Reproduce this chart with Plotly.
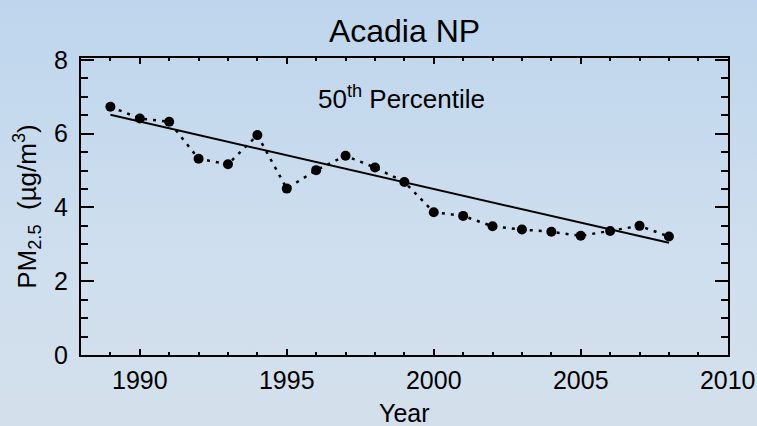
import base64
import plotly.graph_objects as go

years = [1989, 1990, 1991, 1992, 1993, 1994, 1995, 1996, 1997, 1998,
         1999, 2000, 2001, 2002, 2003, 2004, 2005, 2006, 2007, 2008]
pm25_p50 = [6.73, 6.41, 6.32, 5.32, 5.17, 5.96, 4.51, 5.01, 5.40, 5.08,
            4.69, 3.87, 3.77, 3.49, 3.40, 3.34, 3.23, 3.36, 3.50, 3.21]
trend_years = [1989, 2008]
trend_pm25 = [6.51, 3.04]

x_ticks = [1990, 1995, 2000, 2005, 2010]
y_ticks = [0, 2, 4, 6, 8]

FONT = "Liberation Sans, Arial, Helvetica, sans-serif"

svg = """<svg xmlns='http://www.w3.org/2000/svg' width='757' height='426' preserveAspectRatio='none'>
<defs><linearGradient id='g' x1='0' y1='0' x2='0' y2='1'>
<stop offset='0' stop-color='#bdd5ed'/>
<stop offset='0.55' stop-color='#d0dfee'/>
<stop offset='1' stop-color='#d5e0ea'/>
</linearGradient></defs>
<rect width='757' height='426' fill='url(#g)'/></svg>"""
bg_src = "data:image/svg+xml;base64," + base64.b64encode(svg.encode()).decode()

PW, PH = 647.0, 297.0

fig = go.Figure()
fig.add_trace(go.Scatter(
    x=years, y=pm25_p50, mode="lines+markers",
    line=dict(color="black", width=2.5, dash="3px,6px"),
    marker=dict(color="black", size=10),
    showlegend=False, hoverinfo="skip"))
fig.add_trace(go.Scatter(
    x=trend_years, y=trend_pm25, mode="lines",
    line=dict(color="black", width=2),
    showlegend=False, hoverinfo="skip"))

fig.update_layout(
    width=757, height=426,
    margin=dict(l=81, r=29, t=58, b=71, autoexpand=False),
    paper_bgcolor="#d3dfeb",
    plot_bgcolor="rgba(0,0,0,0)",
    font=dict(family=FONT, color="black", size=25),
    images=[dict(source=bg_src, xref="paper", yref="paper",
                 x=-100 / PW, y=1 + 70 / PH, sizex=800 / PW, sizey=520 / PH,
                 xanchor="left", yanchor="top", sizing="stretch", layer="below")],
    title=dict(text="Acadia NP", x=0.5, xref="paper", y=1 - 31 / 426, yref="container",
               xanchor="center", yanchor="middle",
               font=dict(family=FONT, size=32, color="black")),
    annotations=[
        dict(text="50<sup>th</sup> Percentile", x=0.5, y=8.05 - (97 - 58) / 36.83,
             xref="paper", yref="y", xanchor="center", yanchor="middle",
             xshift=-3, showarrow=False,
             font=dict(family=FONT, size=26, color="black")),
        dict(text="Year", x=0.5, y=0, xref="paper", yref="paper",
             xanchor="center", yanchor="top", yshift=-42, showarrow=False,
             font=dict(family=FONT, size=25, color="black")),
    ],
)

fig.update_xaxes(
    range=[1988, 2010.01], tickvals=x_ticks, ticktext=[str(v) for v in x_ticks],
    automargin=False,
    showgrid=False, zeroline=False,
    showline=True, linecolor="black", linewidth=2, mirror="ticks",
    ticks="inside", ticklen=6, tickwidth=2, tickcolor="black",
    minor=dict(dtick=1, tick0=1988, ticks="inside", ticklen=3, tickwidth=2, tickcolor="black"),
    ticklabelstandoff=2,
    tickfont=dict(family=FONT, size=25),
)
fig.update_yaxes(
    range=[0, 8.05], tickvals=y_ticks, ticktext=[str(v) for v in y_ticks],
    automargin=False,
    showgrid=False, zeroline=False,
    showline=True, linecolor="black", linewidth=2, mirror="ticks",
    ticks="inside", ticklen=13, tickwidth=2, tickcolor="black",
    minor=dict(dtick=0.5, tick0=0, ticks="inside", ticklen=7, tickwidth=2, tickcolor="black"),
    ticklabelstandoff=6,
    tickfont=dict(family=FONT, size=25),
    title=dict(text="PM<sub>2.5</sub>  (µg/m<sup>3</sup>)", font=dict(family=FONT, size=26), standoff=10),
)

fig.write_html("out.html")
